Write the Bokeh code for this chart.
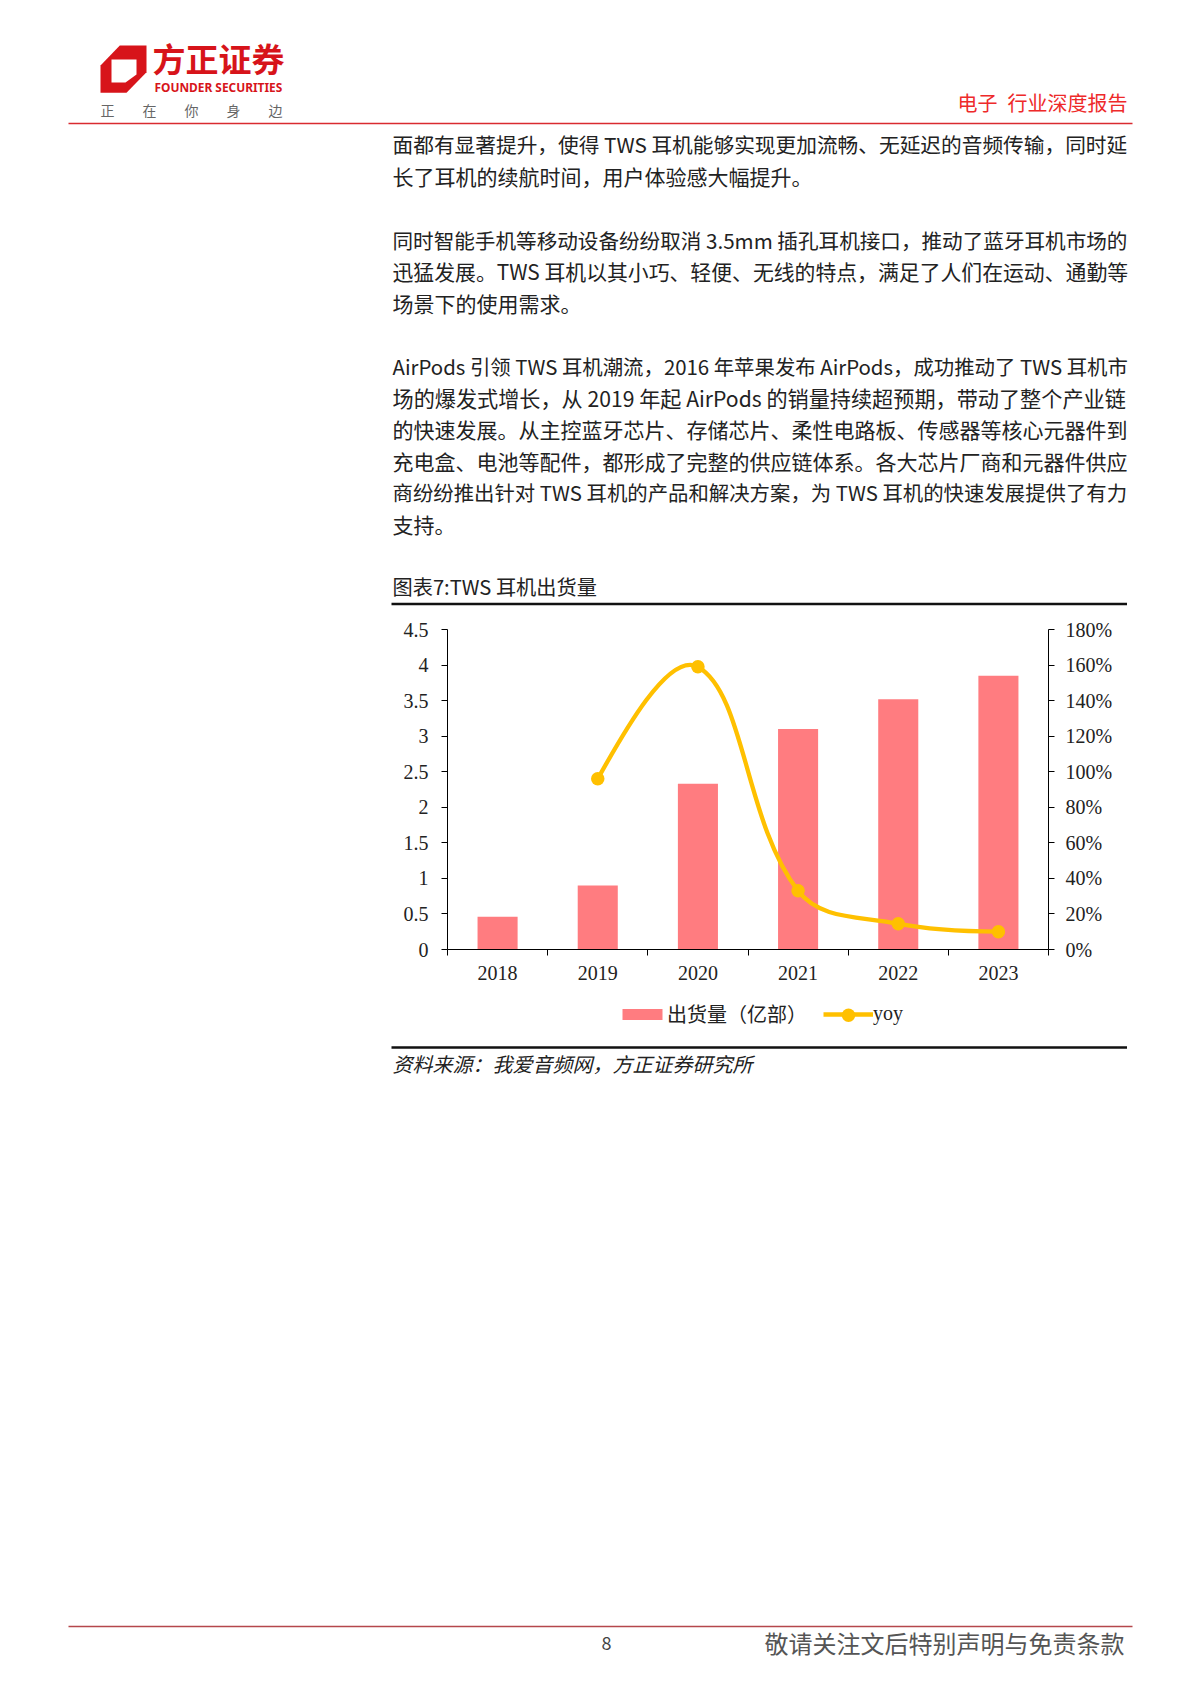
from bokeh.plotting import figure
from bokeh.layouts import column
from bokeh.models import (Label, Legend, LegendItem, LinearAxis, Range1d,
                          FixedTicker, ColumnDataSource)
from bokeh.embed import file_html
from bokeh.resources import INLINE

# ---- data ----
years = [2018, 2019, 2020, 2021, 2022, 2023]
shipments = [0.46, 0.90, 2.33, 3.10, 3.52, 3.85]
yoy_years = [2019, 2020, 2021, 2022, 2023]
yoy = [0.96, 1.59, 0.33, 0.145, 0.10]
left_ticks = [0, 0.5, 1, 1.5, 2, 2.5, 3, 3.5, 4, 4.5]
left_labels = ["0", "0.5", "1", "1.5", "2", "2.5", "3", "3.5", "4", "4.5"]
right_ticks = [0, 0.2, 0.4, 0.6, 0.8, 1.0, 1.2, 1.4, 1.6, 1.8]
right_labels = ["0%", "20%", "40%", "60%", "80%", "100%", "120%", "140%", "160%", "180%"]
series_bar = "出货量（亿部）"
series_line = "yoy"

body_lines = [
    "面都有显著提升，使得 TWS 耳机能够实现更加流畅、无延迟的音频传输，同时延",
    "长了耳机的续航时间，用户体验感大幅提升。",
    "同时智能手机等移动设备纷纷取消 3.5mm 插孔耳机接口，推动了蓝牙耳机市场的",
    "迅猛发展。TWS 耳机以其小巧、轻便、无线的特点，满足了人们在运动、通勤等",
    "场景下的使用需求。",
    "AirPods 引领 TWS 耳机潮流，2016 年苹果发布 AirPods，成功推动了 TWS 耳机市",
    "场的爆发式增长，从 2019 年起 AirPods 的销量持续超预期，带动了整个产业链",
    "的快速发展。从主控蓝牙芯片、存储芯片、柔性电路板、传感器等核心元器件到",
    "充电盒、电池等配件，都形成了完整的供应链体系。各大芯片厂商和元器件供应",
    "商纷纷推出针对 TWS 耳机的产品和解决方案，为 TWS 耳机的快速发展提供了有力",
    "支持。",
]
body_y = [143.5, 175, 239, 270, 302, 365, 397, 428, 460, 491, 523]
body_size = [20.7, 21, 20.6, 20.85, 21, 20.4, 21.15, 21, 21, 20.4, 21]

# ---- layout: three stacked figures that together fill the page ----
W = 1184
PAGE_L, PAGE_R = 0, 1184
TOP_Y0, TOP_Y1 = 0, 610
MID_Y1 = 1000
BOT_Y1 = 1690
F_L, F_R, F_T, F_B = 447, 1048, 629, 949
SANS = "Noto Sans CJK SC"
SERIF = "Liberation Serif"


def page(y0, y1):
    f = figure(width=W, height=y1 - y0, output_backend="svg", toolbar_location=None,
               x_range=Range1d(PAGE_L, PAGE_R), y_range=Range1d(y1, y0),
               min_border=0, x_axis_type=None, y_axis_type=None, frame_align=False)
    f.grid.visible = False
    f.outline_line_color = None
    return f


top = page(TOP_Y0, TOP_Y1)
bot = page(MID_Y1, BOT_Y1)


def text(f, t, x, y, size, color="#222222", align="left", font=SANS, style="normal"):
    f.add_layout(Label(x=x, y=y, text=t, text_font=font, text_font_size=f"{size}px",
                       text_color=color, text_align=align, text_baseline="middle",
                       text_font_style=style))


def rule(f, x0, x1, y, h, color):
    f.quad(left=x0, right=x1, top=y - h / 2, bottom=y + h / 2, fill_color=color, line_color=None)


# header
top.patch([100, 119.3, 146, 146, 126, 100], [65, 45, 45, 71.7, 92.3, 92.3],
          fill_color="#D7141A", line_color=None)
top.patch([111, 136, 136, 125, 111], [59, 59, 74, 82, 82], fill_color="white", line_color=None)
text(top, "方正证券", 152, 57, 33, "#D7141A", style="bold")
text(top, "FOUNDER SECURITIES", 154, 86, 11.9, "#D7141A", font="Noto Sans", style="bold")
text(top, "正\u3000\u3000在\u3000\u3000你\u3000\u3000身\u3000\u3000边", 100, 109, 14, "#666666")
text(top, "电子\u2002行业深度报告", 1127, 102, 20, "#EE2A2A", align="right")
rule(top, 68, 1132, 123, 1.6, "#D92B30")

# body
for line, y, s in zip(body_lines, body_y, body_size):
    text(top, line, 392, y, s)

# caption & rules
text(top, "图表7:TWS 耳机出货量", 392, 586, 20.2)
rule(top, 391, 1126.5, 603.5, 2.6, "#111111")
rule(bot, 391, 1126.5, 1047, 2.6, "#111111")
text(bot, "资料来源：我爱音频网，方正证券研究所", 392, 1063, 20, style="italic")

# footer
rule(bot, 68, 1132, 1626, 1.6, "#B5474B")
text(bot, "8", 606, 1642, 18, "#444444", align="center")
text(bot, "敬请关注文后特别声明与免责条款", 1124, 1642, 24, "#555555", align="right")

# ---- chart ----
p = figure(width=W, height=MID_Y1 - TOP_Y1, output_backend="svg", toolbar_location=None,
           x_range=Range1d(years[0] - 0.5, years[-1] + 0.5),
           y_range=Range1d(left_ticks[0], left_ticks[-1]),
           min_border_left=F_L - PAGE_L, min_border_right=PAGE_R - F_R,
           min_border_top=F_T - TOP_Y1, min_border_bottom=MID_Y1 - F_B,
           x_axis_location="below", y_axis_location="left", frame_align=False)
p.grid.visible = False
p.outline_line_color = None
p.extra_y_ranges = {"yoy": Range1d(right_ticks[0], right_ticks[-1])}

p.vbar(x=years, top=shipments, width=0.4, bottom=0, fill_color="#FF7C80", line_color=None)


def smooth_segments(xs, ys, sx, sy, t=0.38, end=0.35):
    """Spreadsheet-style smoothing: Bezier control points through the data points."""
    pts = list(zip(xs, ys))
    n = len(pts)
    c_after = [None] * n
    c_before = [None] * n
    for i in range(1, n - 1):
        (x0, y0), (x1, y1), (x2, y2) = pts[i - 1], pts[i], pts[i + 1]
        d01 = (((x1 - x0) * sx) ** 2 + ((y1 - y0) * sy) ** 2) ** 0.5
        d12 = (((x2 - x1) * sx) ** 2 + ((y2 - y1) * sy) ** 2) ** 0.5
        fa = t * d01 / (d01 + d12)
        fb = t * d12 / (d01 + d12)
        c_before[i] = (x1 - fa * (x2 - x0), y1 - fa * (y2 - y0))
        c_after[i] = (x1 + fb * (x2 - x0), y1 + fb * (y2 - y0))
    c_after[0] = (pts[0][0] + end * (c_before[1][0] - pts[0][0]),
                  pts[0][1] + end * (c_before[1][1] - pts[0][1]))
    c_before[-1] = (pts[-1][0] + end * (c_after[-2][0] - pts[-1][0]),
                    pts[-1][1] + end * (c_after[-2][1] - pts[-1][1]))
    return dict(
        x0=[pts[i][0] for i in range(n - 1)], y0=[pts[i][1] for i in range(n - 1)],
        x1=[pts[i + 1][0] for i in range(n - 1)], y1=[pts[i + 1][1] for i in range(n - 1)],
        cx0=[c_after[i][0] for i in range(n - 1)], cy0=[c_after[i][1] for i in range(n - 1)],
        cx1=[c_before[i + 1][0] for i in range(n - 1)], cy1=[c_before[i + 1][1] for i in range(n - 1)],
    )


seg = ColumnDataSource(smooth_segments(yoy_years, yoy, 100, 178))
p.bezier(x0="x0", y0="y0", x1="x1", y1="y1", cx0="cx0", cy0="cy0", cx1="cx1", cy1="cy1",
         source=seg, y_range_name="yoy", line_color="#FFC000", line_width=4.3)
p.scatter(x=yoy_years, y=yoy, y_range_name="yoy", size=13.5, marker="circle",
          fill_color="#FFC000", line_color=None)

# axes
xa = p.xaxis[0]
boundaries = [y - 0.5 for y in years] + [years[-1] + 0.5]
xa.ticker = FixedTicker(ticks=years, minor_ticks=boundaries)
xa.major_label_overrides = {y: str(y) for y in years}
xa.major_tick_in = 0
xa.major_tick_out = 0
xa.minor_tick_in = 0
xa.minor_tick_out = 6
xa.minor_tick_line_color = "black"
xa.axis_line_color = "black"
xa.major_label_text_font = SERIF
xa.major_label_text_font_size = "20px"
xa.major_label_text_color = "#222222"
xa.major_label_standoff = 10

ya = p.yaxis[0]
ya.ticker = FixedTicker(ticks=left_ticks, minor_ticks=[])
ya.major_label_overrides = dict(zip(left_ticks, left_labels))

yr = LinearAxis(y_range_name="yoy", ticker=FixedTicker(ticks=right_ticks, minor_ticks=[]))
yr.major_label_overrides = dict(zip(right_ticks, right_labels))
p.add_layout(yr, "right")
for a in (ya, yr):
    a.major_tick_in = 0
    a.major_tick_out = 6
    a.minor_tick_in = 0
    a.minor_tick_out = 0
    a.axis_line_color = "black"
    a.major_tick_line_color = "black"
    a.major_label_text_font = SERIF
    a.major_label_text_font_size = "20px"
    a.major_label_text_color = "#222222"
    a.major_label_orientation = "horizontal"
ya.major_label_standoff = 13
yr.major_label_standoff = 11

# legend keys live in the page strip below the chart; NaN keeps them off the plot area
nan = float("nan")
leg_bar = bot.vbar(x=[nan], top=[nan], width=1, fill_color="#FF7C80", line_color=None)
leg_line = bot.line(x=[nan], y=[nan], line_color="#FFC000", line_width=4.3)
legend = Legend(items=[LegendItem(label=series_bar, renderers=[leg_bar]),
                       LegendItem(label=series_line, renderers=[leg_line])],
                orientation="horizontal", location=(617, 662),
                background_fill_alpha=0, border_line_color=None,
                label_text_font="Liberation Serif, 'Noto Sans CJK SC'",
                label_text_font_size="20px", label_text_color="#222222",
                glyph_width=50, glyph_height=14, spacing=16, label_standoff=0,
                margin=0, padding=0)
bot.add_layout(legend, "center")
# the round marker on the legend's line key
bot.scatter(x=[848], y=[1014.7], size=13.5, marker="circle", fill_color="#FFC000", line_color=None)

open("out.html", "w").write(file_html(column(top, p, bot, spacing=0), INLINE))
